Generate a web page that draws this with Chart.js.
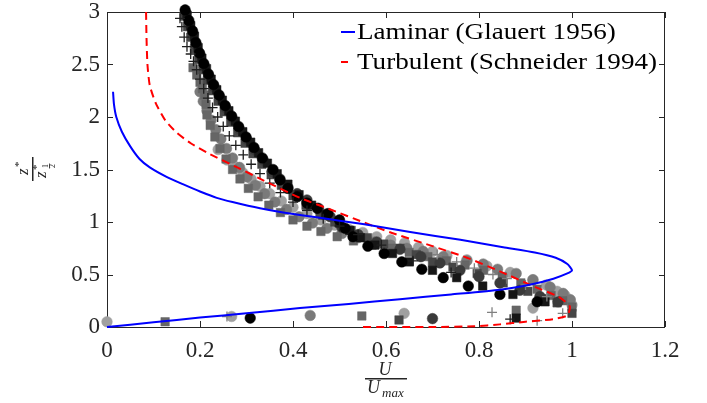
<!DOCTYPE html>
<html><head><meta charset="utf-8">
<script src="https://cdn.jsdelivr.net/npm/chart.js@4.4.1/dist/chart.umd.min.js"></script>
<style>html,body{margin:0;padding:0;background:#fff;}#wrap{width:707px;height:403px;}</style>
</head><body><div id="wrap"><canvas id="c" width="707" height="403"></canvas></div>
<script>
// ---- axis ticks ----
const xTicks = [0, 0.2, 0.4, 0.6, 0.8, 1, 1.2];
const yTicks = [0, 0.5, 1, 1.5, 2, 2.5, 3];
const xTickLabels = ['0', '0.2', '0.4', '0.6', '0.8', '1', '1.2'];
const yTickLabels = ['0', '0.5', '1', '1.5', '2', '2.5', '3'];

// ---- model curves [U/Umax, z*/z*1/2] ----
const laminarLabel = 'Laminar (Glauert 1956)';
const laminar = [[0,0],[0.1,0.045],[0.2,0.09],[0.3,0.13],[0.415,0.18],[0.52,0.22],[0.63,0.265],[0.74,0.31],[0.845,0.355],[0.916,0.41],[0.96,0.46],[0.99,0.51],[1.0,0.54],[0.99,0.6],[0.965,0.66],[0.92,0.71],[0.852,0.76],[0.76,0.83],[0.652,0.905],[0.55,0.98],[0.458,1.04],[0.379,1.09],[0.329,1.13],[0.27,1.19],[0.236,1.23],[0.2,1.29],[0.163,1.36],[0.128,1.43],[0.092,1.52],[0.07,1.6],[0.05,1.72],[0.032,1.86],[0.02,2.0],[0.015,2.12],[0.013,2.24]];
const turbulentLabel = 'Turbulent (Schneider 1994)';
const turbulent = [[0.084,3.0],[0.085,2.75],[0.087,2.5],[0.092,2.3],[0.105,2.13],[0.125,1.97],[0.15,1.85],[0.18,1.75],[0.22,1.65],[0.28,1.52],[0.344,1.38],[0.415,1.23],[0.486,1.11],[0.55,1.0],[0.61,0.9],[0.7,0.77],[0.774,0.66],[0.845,0.53],[0.916,0.39],[0.97,0.29],[0.995,0.2],[0.99,0.11],[0.96,0.075],[0.9,0.05],[0.845,0.025],[0.79,0.007],[0.7,0],[0.548,0]];

// ---- measured profiles ----
const blackCircles = [[0.168,3.02],[0.176,2.92],[0.184,2.82],[0.191,2.71],[0.199,2.61],[0.208,2.51],[0.218,2.41],[0.229,2.31],[0.241,2.21],[0.254,2.11],[0.268,2.01],[0.283,1.91],[0.299,1.81],[0.316,1.71],[0.334,1.61],[0.357,1.5],[0.372,1.4],[0.389,1.32],[0.409,1.24],[0.43,1.18],[0.452,1.13],[0.475,1.08],[0.5,1.02],[0.512,0.94],[0.529,0.86],[0.561,0.77],[0.596,0.7],[0.634,0.62],[0.677,0.55],[0.723,0.47],[0.777,0.39],[0.845,0.31],[0.925,0.24],[0.308,0.085]];
const blackSquares = [[0.172,2.97],[0.18,2.87],[0.188,2.77],[0.196,2.66],[0.204,2.56],[0.214,2.46],[0.224,2.36],[0.236,2.26],[0.248,2.16],[0.262,2.06],[0.276,1.96],[0.292,1.86],[0.309,1.76],[0.326,1.66],[0.345,1.56],[0.366,1.46],[0.389,1.36],[0.413,1.26],[0.44,1.16],[0.47,1.07],[0.5,0.99],[0.522,0.92],[0.545,0.85],[0.576,0.78],[0.614,0.7],[0.65,0.62],[0.7,0.54],[0.752,0.47],[0.808,0.39],[0.873,0.31],[0.942,0.24],[0.88,0.085]];
const darkCircles = [[0.17,2.99],[0.177,2.89],[0.185,2.79],[0.192,2.69],[0.2,2.59],[0.209,2.49],[0.219,2.39],[0.23,2.29],[0.242,2.19],[0.255,2.09],[0.269,1.99],[0.284,1.89],[0.3,1.79],[0.317,1.69],[0.336,1.59],[0.355,1.48],[0.372,1.41],[0.389,1.33],[0.409,1.27],[0.43,1.21],[0.455,1.13],[0.48,1.05],[0.505,0.95],[0.54,0.88],[0.58,0.81],[0.63,0.74],[0.675,0.67],[0.716,0.61],[0.759,0.54],[0.8,0.48],[0.845,0.42],[0.888,0.35],[0.931,0.29],[0.97,0.24],[0.7,0.08]];
const darkSquares = [[0.166,2.96],[0.173,2.86],[0.18,2.76],[0.188,2.65],[0.197,2.55],[0.206,2.45],[0.216,2.35],[0.227,2.25],[0.239,2.15],[0.252,2.05],[0.266,1.95],[0.281,1.85],[0.297,1.75],[0.314,1.65],[0.333,1.55],[0.353,1.45],[0.375,1.35],[0.4,1.25],[0.428,1.16],[0.458,1.08],[0.49,1.0],[0.525,0.92],[0.56,0.85],[0.595,0.79],[0.63,0.75],[0.665,0.69],[0.7,0.62],[0.744,0.57],[0.796,0.51],[0.852,0.42],[0.905,0.34],[0.935,0.27],[0.968,0.23],[1.0,0.13],[0.628,0.067]];
const darkPlus = [[0.157,2.94],[0.161,2.86],[0.166,2.76],[0.172,2.67],[0.18,2.6],[0.186,2.53],[0.193,2.45],[0.2,2.36],[0.208,2.27],[0.217,2.18],[0.227,2.09],[0.238,2.0],[0.25,1.91],[0.263,1.82],[0.277,1.73],[0.293,1.64],[0.31,1.55],[0.329,1.46],[0.35,1.37],[0.373,1.28],[0.4,1.19],[0.43,1.11],[0.465,1.03],[0.5,0.96],[0.54,0.88],[0.59,0.78],[0.658,0.63],[0.74,0.52],[0.867,0.075]];
const greySquares = [[0.185,2.47],[0.193,2.4],[0.2,2.33],[0.205,2.27],[0.21,2.21],[0.213,2.12],[0.215,2.02],[0.222,1.92],[0.232,1.81],[0.243,1.7],[0.256,1.6],[0.27,1.5],[0.286,1.41],[0.304,1.32],[0.325,1.24],[0.348,1.16],[0.373,1.09],[0.4,1.02],[0.43,0.96],[0.46,0.91],[0.495,0.86],[0.53,0.82],[0.57,0.78],[0.61,0.75],[0.65,0.71],[0.69,0.67],[0.73,0.63],[0.77,0.59],[0.81,0.54],[0.85,0.48],[0.89,0.42],[0.925,0.36],[0.955,0.3],[0.98,0.25],[1.0,0.19],[0.125,0.05],[0.548,0.105],[0.88,0.16]];
const greyCircles = [[0.2,2.24],[0.207,2.15],[0.215,2.06],[0.224,1.97],[0.234,1.88],[0.245,1.79],[0.257,1.7],[0.27,1.61],[0.285,1.52],[0.301,1.43],[0.319,1.35],[0.339,1.27],[0.361,1.19],[0.386,1.12],[0.413,1.05],[0.442,0.99],[0.473,0.94],[0.505,0.89],[0.54,0.85],[0.575,0.81],[0.61,0.78],[0.645,0.75],[0.68,0.72],[0.723,0.67],[0.774,0.63],[0.809,0.6],[0.84,0.55],[0.88,0.51],[0.916,0.45],[0.953,0.38],[0.981,0.32],[0.996,0.26],[0.437,0.11]];
const lightCircles = [[0.239,1.69],[0.258,1.59],[0.275,1.53],[0.292,1.47],[0.31,1.41],[0.329,1.34],[0.35,1.27],[0.375,1.2],[0.4,1.14],[0.43,1.08],[0.46,1.02],[0.49,0.97],[0.52,0.93],[0.55,0.9],[0.58,0.86],[0.61,0.83],[0.64,0.8],[0.67,0.76],[0.7,0.72],[0.731,0.68],[0.774,0.64],[0.817,0.58],[0.867,0.52],[0.916,0.45],[0.945,0.4],[0.968,0.34],[0.985,0.3],[0.996,0.26],[1.0,0.21],[0.916,0.18],[0.639,0.13],[0.268,0.1],[0.0,0.05]];
const greyPlus = [[0.71,0.69],[0.752,0.62],[0.79,0.56],[0.83,0.5],[0.86,0.46],[0.9,0.4],[0.946,0.29],[0.98,0.13],[0.828,0.14],[0.925,0.06],[0.258,0.1]];

const pts = a => a.map(p => ({x: p[0], y: p[1]}));
const circle = (d, c) => ({data: pts(d), pointStyle: 'circle', pointRadius: 5.3, pointHoverRadius: 5.3, backgroundColor: c, borderColor: c, borderWidth: 0.5, clip: false, showLine: false});
const square = (d, c) => ({data: pts(d), pointStyle: 'rect', pointRadius: 6, pointHoverRadius: 6, backgroundColor: c, borderColor: c, borderWidth: 0.5, clip: false, showLine: false});
const plus = (d, c) => ({data: pts(d), pointStyle: 'cross', pointRadius: 5, pointHoverRadius: 5, backgroundColor: c, borderColor: c, borderWidth: 1.3, clip: false, showLine: false});

const datasets = [
  {label: laminarLabel, data: pts(laminar), showLine: true, borderColor: '#0000ff', borderWidth: 2, pointRadius: 0, tension: 0.2, fill: false, clip: false},
  {label: turbulentLabel, data: pts(turbulent), showLine: true, borderColor: '#ff0000', borderWidth: 2, borderDash: [8, 5], pointRadius: 0, tension: 0.2, fill: false, clip: false},
  plus(darkPlus, '#1e1e1e'),
  plus(greyPlus, '#808080'),
  circle(blackCircles, '#000000'),
  square(blackSquares, '#161616'),
  circle(darkCircles, '#3a3a3a'),
  square(darkSquares, '#464646'),
  square(greySquares, '#666666'),
  circle(greyCircles, '#7a7a7a'),
  circle(lightCircles, '#a0a0a0'),
];

const FRAME = '#262626';
const SERIF = '"Liberation Serif", "Times New Roman", serif';
const framePlugin = {
  id: 'frame',
  beforeDatasetsDraw(chart) {
    const {ctx, chartArea: a, scales: {x, y}} = chart;
    ctx.save();
    ctx.strokeStyle = FRAME; ctx.lineWidth = 1;
    ctx.strokeRect(a.left + 0.5, a.top + 0.5, a.right - a.left - 1, a.bottom - a.top);
    ctx.beginPath();
    xTicks.forEach(v => { const px = Math.round(x.getPixelForValue(v)) + 0.5;
      ctx.moveTo(px, a.bottom); ctx.lineTo(px, a.bottom - 6);
      ctx.moveTo(px, a.top); ctx.lineTo(px, a.top + 6); });
    yTicks.forEach(v => { const py = Math.round(y.getPixelForValue(v)) + 0.5;
      ctx.moveTo(a.left, py); ctx.lineTo(a.left + 6, py);
      ctx.moveTo(a.right, py); ctx.lineTo(a.right - 6, py); });
    ctx.stroke();
    ctx.restore();
  },
  afterDraw(chart) {
    const {ctx} = chart;
    ctx.save();
    ctx.fillStyle = FRAME; ctx.strokeStyle = FRAME;
    // x title: U / U_max
    ctx.textAlign = 'center'; ctx.textBaseline = 'alphabetic';
    ctx.font = 'italic 18px ' + SERIF;
    ctx.fillText('U', 385, 375);
    ctx.fillRect(365, 378, 42, 1.5);
    ctx.textAlign = 'left';
    ctx.fillText('U', 367, 393);
    ctx.font = 'italic 13px ' + SERIF;
    ctx.fillText('max', 382, 397);
    // y title: z* / z*_{1/2}, rotated
    ctx.translate(33, 169);
    ctx.rotate(-Math.PI / 2);
    ctx.fillRect(-12, -1, 24, 1.5);
    ctx.font = 'italic 17px ' + SERIF;
    ctx.textAlign = 'left';
    ctx.fillText('z', -6, -5);
    ctx.font = '11px ' + SERIF;
    ctx.fillText('*', 2, -11);
    ctx.font = 'italic 17px ' + SERIF;
    ctx.fillText('z', -9, 13);
    ctx.font = '11px ' + SERIF;
    ctx.fillText('*', -1, 7);
    ctx.font = '8px ' + SERIF;
    ctx.fillText('1', 1, 15);
    ctx.fillRect(0.5, 16, 5, 0.8);
    ctx.fillText('2', 1, 22);
    ctx.restore();
    // legend
    ctx.save();
    const items = [
      {label: laminarLabel, color: '#0000ff', x0: 341, x1: 355, y: 32},
      {label: turbulentLabel, color: '#ff0000', x0: 341, x1: 348, y: 62},
    ];
    ctx.font = '23px ' + SERIF;
    const w = ctx.measureText(turbulentLabel).width;
    const sx = 300 / w;
    items.forEach(it => {
      ctx.strokeStyle = it.color; ctx.lineWidth = 2;
      ctx.beginPath(); ctx.moveTo(it.x0, it.y); ctx.lineTo(it.x1, it.y); ctx.stroke();
      ctx.save();
      ctx.translate(357, it.y);
      ctx.scale(sx, 1);
      ctx.fillStyle = '#000'; ctx.textAlign = 'left'; ctx.textBaseline = 'middle';
      ctx.fillText(it.label, 0, 1);
      ctx.restore();
    });
    ctx.restore();
  }
};

new Chart(document.getElementById('c'), {
  type: 'scatter',
  data: {datasets},
  options: {
    responsive: false, devicePixelRatio: 1, animation: false,
    layout: {padding: {top: 12, left: 0, right: 42, bottom: 0}},
    plugins: {legend: {display: false}, tooltip: {enabled: false}},
    scales: {
      x: {type: 'linear', min: 0, max: 1.2, afterBuildTicks: s => { s.ticks = xTicks.map(v => ({value: v})); },
        grid: {display: false, drawTicks: false}, border: {display: false},
        ticks: {padding: 10, color: FRAME, font: {family: SERIF, size: 23}, maxRotation: 0, autoSkip: false,
          callback: (v, i) => xTickLabels[i]},
        afterFit: s => { s.height = 76; s.paddingLeft = 0; s.paddingRight = 0; }},
      y: {type: 'linear', min: 0, max: 3, afterBuildTicks: s => { s.ticks = yTicks.map(v => ({value: v})); },
        grid: {display: false, drawTicks: false}, border: {display: false},
        ticks: {padding: 7, color: FRAME, font: {family: SERIF, size: 23}, autoSkip: false,
          callback: (v, i) => yTickLabels[i]},
        afterFit: s => { s.width = 107; s.paddingTop = 0; s.paddingBottom = 0; }}
    }
  },
  plugins: [framePlugin]
});
</script></body></html>
